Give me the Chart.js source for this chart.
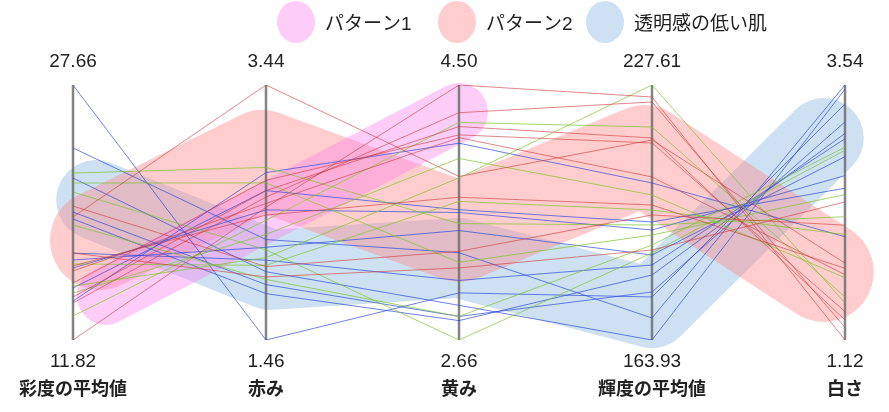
<!DOCTYPE html>
<html>
<head>
<meta charset="utf-8">
<script src="https://cdn.jsdelivr.net/npm/chart.js@4.4.1/dist/chart.umd.min.js"></script>
<style>
  body { margin: 0; background: #fff; }
</style>
</head>
<body>
<canvas id="myChart" width="889" height="412"></canvas>
<script>
var axisNames = ["彩度の平均値", "赤み", "黄み", "輝度の平均値", "白さ"];
var axisMin = [11.82, 1.46, 2.66, 163.93, 1.12];
var axisMax = [27.66, 3.44, 4.50, 227.61, 3.54];

// one row per sample: values on the five axes
var redLines = [
  [19.46, 3.44, 3.84, 213.88, 1.85],
  [11.82, 2.49, 4.50, 224.61, 1.12],
  [14.12, 2.57, 4.30, 223.37, 1.24],
  [14.49, 2.62, 4.20, 214.38, 1.31],
  [15.36, 2.70, 4.14, 213.13, 1.39],
  [16.11, 2.52, 4.12, 204.64, 1.74],
  [16.42, 2.43, 3.69, 197.64, 1.80],
  [20.14, 2.03, 3.30, 195.15, 2.21],
  [17.22, 1.95, 3.18, 186.41, 2.43]
];
var greenLines = [
  [13.31, 2.39, 4.23, 217.12, 1.53],
  [14.74, 2.28, 3.97, 200.14, 1.71],
  [15.17, 2.10, 3.83, 227.61, 1.47],
  [16.54, 2.04, 3.66, 196.39, 2.12],
  [22.19, 2.80, 3.50, 192.65, 2.29],
  [21.57, 2.68, 3.22, 190.15, 2.50],
  [21.01, 2.16, 2.66, 185.66, 2.92],
  [18.96, 1.93, 2.83, 187.65, 2.95]
];
var blueLines = [
  [27.66, 1.46, 3.00, 174.67, 3.36],
  [23.75, 2.24, 3.29, 169.42, 3.54],
  [21.88, 1.99, 2.91, 163.93, 3.50],
  [19.77, 1.89, 2.83, 175.92, 3.19],
  [19.34, 1.82, 2.80, 180.16, 3.08],
  [17.22, 2.08, 3.09, 182.66, 3.03],
  [16.79, 2.18, 3.45, 185.16, 2.86],
  [16.29, 2.47, 3.58, 191.40, 2.68],
  [15.05, 2.62, 3.60, 193.40, 2.56],
  [14.24, 2.76, 4.08, 203.14, 2.10]
];

// highlight bands, in axis units (x) and share of the axis range (y)
var bandNames = ["パターン1", "パターン2", "透明感の低い肌"];
var pattern1X = [0.17, 2.0];
var pattern1Y = [0.173, 0.894];
var pattern2X = [0.14, 0.98, 2.0, 2.96, 3.89];
var pattern2Y = [0.392, 0.706, 0.424, 0.725, 0.267];
var lowClearX = [0.12, 1.02, 2.0, 3.0, 3.89];
var lowClearY = [0.549, 0.275, 0.322, 0.125, 0.792];

var bandColors = ["rgba(250,130,237,0.4)", "rgba(255,130,130,0.4)", "rgba(130,180,222,0.4)"];
var bandWidths = [58, 100, 80];

function toPoints(row) {
  return row.map(function (v, i) {
    return { x: i, y: (v - axisMin[i]) / (axisMax[i] - axisMin[i]) };
  });
}
function bandPoints(xs, ys) {
  return xs.map(function (x, i) { return { x: x, y: ys[i] }; });
}

var datasets = [];
function addLines(rows, color) {
  rows.forEach(function (row) {
    datasets.push({
      data: toPoints(row),
      borderColor: color,
      borderWidth: 1,
      pointRadius: 0,
      fill: false
    });
  });
}
addLines(redLines, "rgba(205,55,55,0.6)");
addLines(greenLines, "rgba(125,195,45,0.7)");
addLines(blueLines, "rgba(45,75,215,0.7)");

// vertical axes
axisNames.forEach(function (name, i) {
  datasets.push({
    data: [{ x: i, y: 0 }, { x: i, y: 1 }],
    borderColor: "rgba(110,110,110,0.85)",
    borderWidth: 2.5,
    pointRadius: 0,
    clip: false
  });
});

var bands = [
  bandPoints(pattern1X, pattern1Y),
  bandPoints(pattern2X, pattern2Y),
  bandPoints(lowClearX, lowClearY)
];
bands.forEach(function (pts, i) {
  datasets.push({
    label: bandNames[i],
    data: pts,
    borderColor: bandColors[i],
    borderWidth: bandWidths[i],
    borderCapStyle: "round",
    borderJoinStyle: "round",
    pointRadius: 0,
    clip: false
  });
});

var axisText = {
  id: "axisText",
  afterDraw: function (chart) {
    var ctx = chart.ctx;
    var xs = chart.scales.x, ys = chart.scales.y;
    var top = ys.getPixelForValue(1), bottom = ys.getPixelForValue(0);
    ctx.save();
    ctx.fillStyle = "#222";
    ctx.textAlign = "center";
    ctx.textBaseline = "middle";
    axisNames.forEach(function (name, i) {
      var px = xs.getPixelForValue(i);
      ctx.font = '19px "Liberation Sans", Arial, sans-serif';
      ctx.fillText(axisMax[i].toFixed(2), px, top - 23);
      ctx.fillText(axisMin[i].toFixed(2), px, bottom + 22);
      ctx.font = 'bold 18px "Noto Sans CJK JP", sans-serif';
      ctx.fillText(name, px, bottom + 48);
    });

    // legend
    var legendX = [296, 457, 605];
    ctx.textAlign = "left";
    ctx.font = '19px "Liberation Sans", "Noto Sans CJK JP", sans-serif';
    bandNames.forEach(function (name, i) {
      ctx.fillStyle = bandColors[i];
      ctx.beginPath();
      ctx.ellipse(legendX[i], 22, 19, 21, 0, 0, Math.PI * 2);
      ctx.fill();
      ctx.fillStyle = "#222";
      ctx.fillText(name, legendX[i] + 29, 25);
    });
    ctx.restore();
  }
};

new Chart("myChart", {
  type: "line",
  data: { datasets: datasets },
  options: {
    responsive: false,
    animation: false,
    layout: { padding: { left: 73, right: 44, top: 85, bottom: 72 } },
    scales: {
      x: { type: "linear", min: 0, max: 4, display: false },
      y: { type: "linear", min: 0, max: 1, display: false }
    },
    plugins: {
      legend: { display: false },
      tooltip: { enabled: false }
    }
  },
  plugins: [axisText]
});
</script>
</body>
</html>
